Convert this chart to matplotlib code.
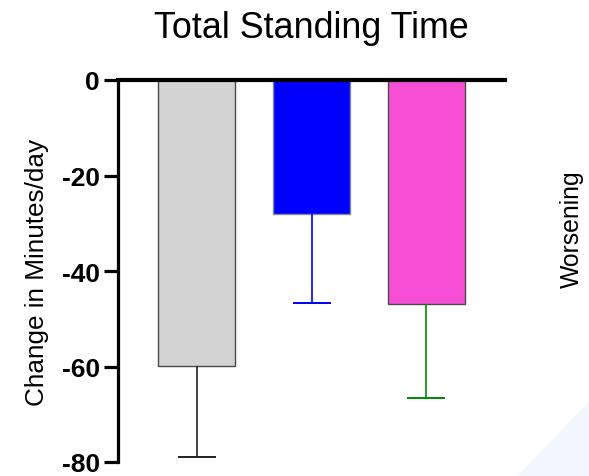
"""Total standing time change, bar chart with one-sided error bars."""

import matplotlib

matplotlib.use("Agg")
import matplotlib.pyplot as plt
from matplotlib.patches import Polygon

plt.rcParams["font.family"] = ["Liberation Sans", "DejaVu Sans"]

# data
groups = ["Group A", "Group B", "Group C"]
change = [-59.8, -28.1, -46.9]
err_low = [19.1, 18.5, 19.6]
bar_colors = ["#d3d3d3", "#0000ff", "#f64fd6"]
edge_colors = ["#4a4a4a", "#8a8a8a", "#4a4a4a"]
err_colors = ["#222222", "#0000ee", "#008a00"]
yticks = [0, -20, -40, -60, -80]


def main() -> None:
    W, H = 589, 477
    fig = plt.figure(figsize=(W / 100, H / 100), dpi=100)
    ax = fig.add_axes([118 / W, 1 - 463 / H, (505 - 118) / W, (463 - 81) / H])

    # faint background triangle in the lower-right corner
    tri = Polygon([(517 / W, 0), (1, 0), (1, 1 - 403 / H)], closed=True,
                  transform=fig.transFigure, facecolor="#f1f7fc",
                  edgecolor="none", zorder=-1)
    fig.patches.append(tri)

    x = list(range(len(groups)))
    for i in x:
        ax.bar(i, change[i], width=0.67, color=bar_colors[i],
               edgecolor=edge_colors[i], linewidth=1.0, zorder=2)
        _, caps, _ = ax.errorbar(i, change[i], yerr=[[err_low[i]], [0]],
                                 fmt="none", ecolor=err_colors[i],
                                 elinewidth=1.2, capsize=13.7, capthick=1.4,
                                 zorder=3)
        # only keep the cap at the lower end
        for cap in caps:
            if abs(cap.get_ydata()[0] - change[i]) < 1e-9:
                cap.set_visible(False)

    ax.set_xlim(-0.683, 2.683)
    ax.set_ylim(-80, 0)
    ax.set_yticks(yticks)
    ax.set_yticklabels([str(t) for t in yticks], fontsize=19, fontweight="bold")
    ax.set_xticks([])

    for side in ("right", "bottom"):
        ax.spines[side].set_visible(False)
    ax.spines["left"].set_linewidth(2.3)
    ax.spines["top"].set_linewidth(3.0)
    ax.spines["top"].set_zorder(4)
    ax.tick_params(axis="y", length=10, width=2.3, pad=3)

    ax.set_ylabel("Change in Minutes/day", fontsize=18.8, labelpad=9)
    ax.set_title("Total Standing Time", fontsize=25.8, pad=31)

    fig.text(572 / W, 1 - 229 / H, "Worsening", rotation=90, fontsize=17.8,
             ha="center", va="center")

    fig.savefig("out.png", dpi=100)
    plt.close(fig)


if __name__ == "__main__":
    main()
